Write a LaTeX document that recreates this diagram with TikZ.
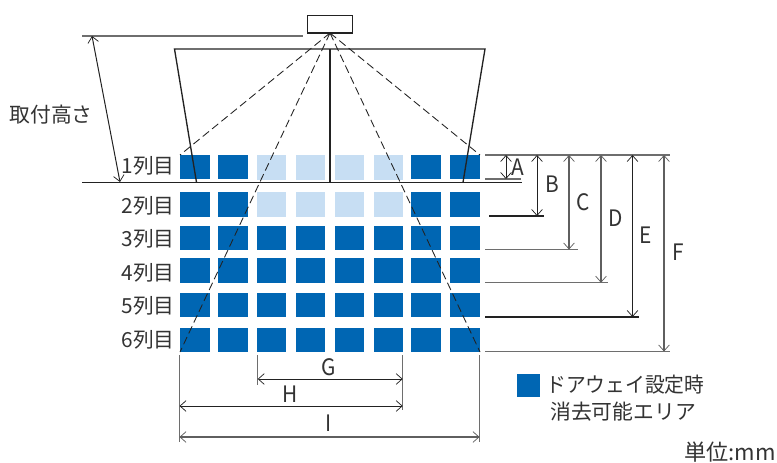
\documentclass[tikz,border=0pt]{standalone}
\usepackage{fontspec}
\setmainfont{Noto Sans CJK JP}
\usetikzlibrary{arrows.meta}
\definecolor{dkblue}{HTML}{0066B3}
\definecolor{ltblue}{HTML}{C7DEF3}
\definecolor{txt}{HTML}{333333}
\definecolor{ln}{HTML}{222222}
\definecolor{gl}{HTML}{6E6E6E}
\tikzset{
  blk/.style={fill=dkblue,draw=none},
  lit/.style={fill=ltblue,draw=none},
  wall/.style={draw=ln,line width=1pt},
  ray/.style={draw=ln,line width=0.65pt,dash pattern=on 6pt off 3pt},
  ext/.style={draw=ln,line width=0.8pt},
  extg/.style={draw=gl,line width=1.05pt},
  dim/.style={draw=ln,line width=0.75pt,{Straight Barb[length=4.5pt,width=8pt,line width=0.55pt]}-{Straight Barb[length=4.5pt,width=8pt,line width=0.55pt]}},
  dimg/.style={dim,draw=gl!80!ln,line width=1.05pt},
  lab/.style={text=txt,font=\fontsize{15.6pt}{17pt}\selectfont,inner sep=0pt},
  lett/.style={text=txt,font=\fontsize{17pt}{19pt}\selectfont,inner sep=0pt,xscale=0.92},
}
\begin{document}
\begin{tikzpicture}[x=0.75pt,y=-0.75pt]
\useasboundingbox (0,0) rectangle (777,463);
% squares
\foreach \r/\yt/\yb in {1/155/179,2/192/217,3/226/250,4/258/283,5/293/317,6/328/352}{
  \foreach \c/\xl/\xr in {1/180/210,2/218/248,7/411/441,8/450/480}{
    \fill[blk] (\xl,\yt) rectangle (\xr,\yb);
  }
}
\foreach \r/\yt/\yb in {1/155/180,2/192/217}{
  \foreach \c/\xl/\xr in {3/257/286,4/296/325,5/335/364,6/374/403}{
    \fill[lit] (\xl,\yt) rectangle (\xr,\yb);
  }
}
\foreach \r/\yt/\yb in {3/226/250,4/258/283,5/293/317,6/328/352}{
  \foreach \c/\xl/\xr in {3/257/286,4/296/325,5/335/364,6/374/403}{
    \fill[blk] (\xl,\yt) rectangle (\xr,\yb);
  }
}
% sensor
\node[draw=ln,line width=0.9pt,fill=white,minimum width=33.5pt,minimum height=13pt,inner sep=0pt,anchor=north west] (sensor) at (307,15) {};
\coordinate (apex) at (330,33);
% door frame
\coordinate (tl) at (174.5,49);
\coordinate (tr) at (485,49);
\coordinate (tc) at (330,49);
\coordinate (bl) at (196.5,182.3);
\coordinate (br) at (463,182.3);
\coordinate (bc) at (330,182.3);
\coordinate (fl) at (82,182.3);
\coordinate (fr) at (522,182.3);
\draw[wall] (bl) -- (tl) -- (tr) -- (br);
\draw[wall] (tc) -- (bc);
\draw[wall] (fl) -- (fr);
% rays
\coordinate (r1) at (180,155);
\coordinate (r2) at (480,155);
\coordinate (r3) at (180,352);
\coordinate (r4) at (480,352);
\draw[ray] (apex) -- (r1);
\draw[ray] (apex) -- (r2);
\draw[ray] (apex) -- (r3);
\draw[ray] (apex) -- (r4);
% mounting height
\coordinate (m1) at (82,36);
\coordinate (m2) at (303,36);
\coordinate (m3) at (92,36);
\coordinate (m4) at (120,182);
\draw[extg] (m1) -- (m2);
\draw[dim] (m3) -- (m4);
\node[lab,anchor=center] (mh) at (51,115) {取付高さ};
% right dimensions
\coordinate (top0) at (485,155);
\coordinate (top1) at (670,155);
\draw[extg] (top0) -- (top1);
\foreach \n/\xa/\xb/\y/\xd/\st/\sd in {
  A/485/521/179/506/extg/dim,
  B/489/544/216/537/ext/dim,
  C/485/578/249.5/569/extg/dimg,
  D/485/608/282.7/601/extg/dimg,
  E/485/639/317/632.5/ext/dim,
  F/485/670/351.5/664/extg/dimg}{
  \coordinate (s\n) at (\xa,\y);
  \coordinate (e\n) at (\xb,\y);
  \coordinate (u\n) at (\xd,155);
  \coordinate (v\n) at (\xd,\y);
  \draw[\st] (s\n) -- (e\n);
  \draw[\sd] (u\n) -- (v\n);
}
\node[lett] (la) at (518,167) {A};
\node[lett] (lb) at (552,184) {B};
\node[lett] (lc) at (583,202) {C};
\node[lett] (ld) at (616,218) {D};
\node[lett] (le) at (646,235) {E};
\node[lett] (lf) at (678,252) {F};
% row labels
\foreach \n/\y in {1/165.5,2/206,3/239,4/273,5/306,6/340}{
  \node[lab,anchor=east] (row\n) at (175,\y) {\n 列目};
}
% bottom dimensions
\coordinate (b1a) at (179.5,355);
\coordinate (b1b) at (179.5,442);
\coordinate (b2a) at (257.7,355);
\coordinate (b2b) at (257.7,385);
\coordinate (b3a) at (402.7,355);
\coordinate (b3b) at (402.7,410);
\coordinate (b4a) at (479.5,355);
\coordinate (b4b) at (479.5,442);
\draw[extg] (b1a) -- (b1b);
\draw[extg] (b2a) -- (b2b);
\draw[extg] (b3a) -- (b3b);
\draw[extg] (b4a) -- (b4b);
\coordinate (g1) at (257.7,379);
\coordinate (g2) at (402.7,379);
\coordinate (h1) at (179.5,406);
\coordinate (h2) at (402.7,406);
\coordinate (i1) at (179.5,437);
\coordinate (i2) at (479.5,437);
\draw[dim] (g1) -- (g2);
\draw[dim] (h1) -- (h2);
\draw[dimg] (i1) -- (i2);
\node[lett] (lg) at (329,367) {G};
\node[lett] (lh) at (290,394) {H};
\node[lett] (li) at (329,423) {I};
% legend
\node[fill=dkblue,minimum size=17.25pt,inner sep=0pt,anchor=north west] (key) at (517,374) {};
\node[lab,anchor=west,xscale=0.95] (leg1) at (546,385) {ドアウェイ設定時};
\node[lab,anchor=west] (leg2) at (550,412) {消去可能エリア};
\node[lab,anchor=east,font=\fontsize{16.6pt}{18pt}\selectfont] (unit) at (776,452) {単位:mm};
\end{tikzpicture}
\end{document}
